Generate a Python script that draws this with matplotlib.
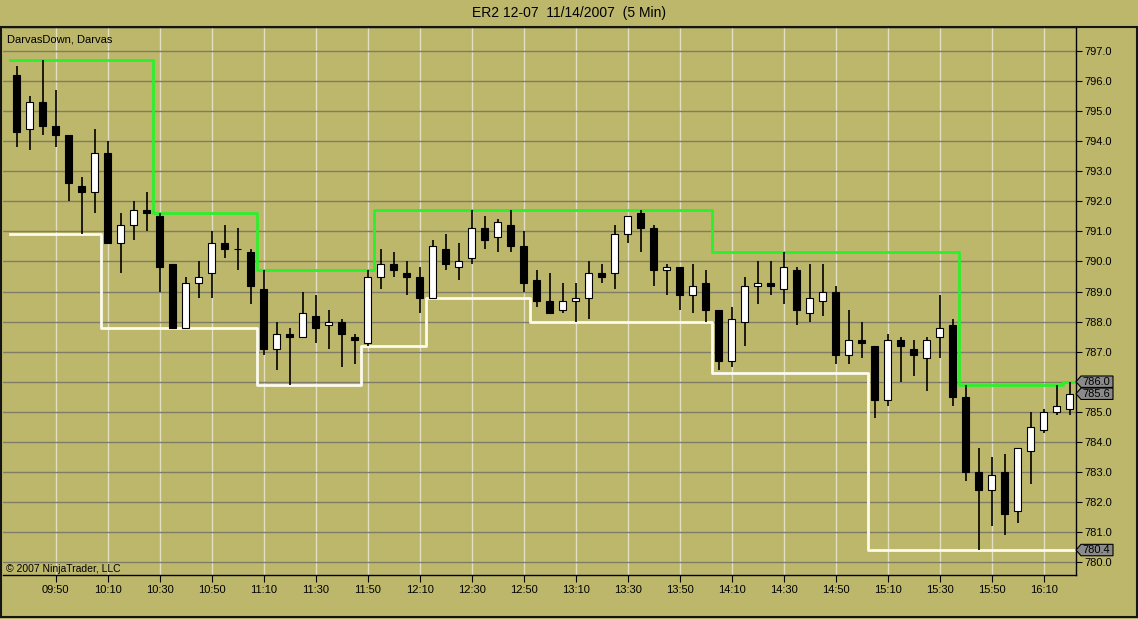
import numpy as np
import pandas as pd
import matplotlib
matplotlib.use("Agg")
import matplotlib.pyplot as plt
import matplotlib.transforms as mtransforms
from matplotlib.patches import Polygon, Rectangle

plt.rcParams["font.family"] = ["Liberation Sans", "DejaVu Sans"]

# 5-min bars of ER2 12-07 on 11/14/2007, first bar 09:35
opens = [796.2, 794.4, 795.3, 794.5, 794.2, 792.5, 792.3, 793.6, 790.6, 791.2,
         791.7, 791.5, 789.9, 787.8, 789.3, 789.6, 790.6, 790.4, 790.3, 789.1,
         787.1, 787.6, 787.5, 788.2, 787.9, 788.0, 787.5, 787.3, 789.5, 789.9,
         789.6, 789.5, 788.8, 790.4, 789.8, 790.1, 791.1, 790.8, 791.2, 790.5,
         789.4, 788.7, 788.4, 788.7, 788.8, 789.6, 789.6, 790.9, 791.6, 791.1,
         789.7, 789.8, 788.9, 789.3, 788.4, 786.7, 788.0, 789.2, 789.3, 789.1,
         789.7, 788.3, 788.7, 789.0, 786.9, 787.4, 787.2, 785.4, 787.4, 787.1,
         786.8, 787.5, 787.9, 785.5, 783.0, 782.4, 783.0, 781.7, 783.7, 784.4,
         785.0, 785.1]
highs = [796.5, 795.5, 796.7, 795.7, 794.2, 792.8, 794.4, 794.0, 791.6, 792.0,
         792.3, 791.6, 789.9, 789.5, 790.0, 791.0, 791.2, 791.1, 790.4, 789.7,
         788.0, 787.8, 789.0, 788.9, 788.4, 788.1, 787.6, 789.7, 790.4, 790.3,
         790.0, 789.8, 790.7, 790.9, 790.6, 791.7, 791.5, 791.4, 791.7, 791.0,
         789.7, 789.6, 789.3, 789.3, 790.0, 789.9, 791.2, 791.5, 791.7, 791.2,
         789.9, 789.8, 789.9, 789.7, 788.4, 788.5, 789.5, 790.0, 790.0, 790.3,
         789.8, 789.9, 789.9, 789.2, 788.4, 788.0, 787.2, 787.6, 787.5, 787.4,
         787.5, 788.9, 788.1, 785.9, 783.8, 783.5, 783.6, 783.8, 785.0, 785.1,
         785.9, 786.0]
lows = [793.8, 793.7, 794.2, 793.8, 792.0, 790.9, 791.6, 790.6, 789.6, 790.7,
        791.0, 789.0, 787.8, 787.8, 788.8, 788.8, 790.1, 789.7, 788.6, 786.9,
        786.4, 785.9, 787.5, 787.3, 787.1, 786.5, 786.6, 787.2, 789.1, 789.5,
        788.9, 788.3, 788.8, 789.7, 789.4, 789.9, 790.4, 790.3, 790.3, 789.0,
        788.5, 788.3, 788.3, 788.0, 788.1, 789.3, 789.1, 790.6, 790.3, 789.2,
        788.9, 788.4, 788.3, 788.0, 786.4, 786.5, 787.2, 788.6, 788.9, 788.6,
        787.9, 788.0, 788.2, 786.6, 786.6, 786.8, 784.8, 785.2, 786.0, 786.2,
        785.7, 786.8, 785.2, 782.7, 780.4, 781.2, 780.9, 781.3, 782.6, 784.3,
        784.9, 784.9]
closes = [794.3, 795.3, 794.5, 794.2, 792.6, 792.3, 793.6, 790.6, 791.2, 791.7,
          791.6, 789.8, 787.8, 789.3, 789.5, 790.6, 790.4, 790.4, 789.2, 787.1,
          787.6, 787.5, 788.3, 787.8, 788.0, 787.6, 787.4, 789.5, 789.9, 789.7,
          789.5, 788.8, 790.5, 789.9, 790.0, 791.1, 790.7, 791.3, 790.5, 789.3,
          788.7, 788.3, 788.7, 788.8, 789.6, 789.5, 790.9, 791.5, 791.1, 789.7,
          789.8, 788.9, 789.2, 788.4, 786.7, 788.1, 789.2, 789.3, 789.2, 789.8,
          788.4, 788.8, 789.0, 786.9, 787.4, 787.3, 785.4, 787.4, 787.2, 786.9,
          787.4, 787.8, 785.5, 783.0, 782.4, 782.9, 781.6, 783.8, 784.5, 785.0,
          785.2, 785.6]

# Darvas box edges: level and the bar where it starts
top_starts = [0, 11, 19, 28, 54, 73, 81]
top_levels = [796.7, 791.6, 789.7, 791.7, 790.3, 785.9, 786.0]
bottom_starts = [0, 7, 19, 27, 32, 40, 54, 66]
bottom_levels = [790.9, 787.8, 785.9, 787.2, 788.8, 788.0, 786.3, 780.4]

BG = "#BDB76B"
GRID_H = "#807d66"
GRID_V = "#e2dec0"

n = len(closes)
times = pd.date_range("2007-11-14 09:35", periods=n, freq="5min")
idx = np.arange(n)
o = np.array(opens)
h = np.array(highs)
l = np.array(lows)
c = np.array(closes)


def step_series(starts, levels):
    vals = np.empty(n)
    for s, v in zip(starts, levels):
        vals[s:] = v
    return vals


fig = plt.figure(figsize=(11.38, 6.19), dpi=100, facecolor=BG)
W, H = 1138, 619
ax = fig.add_axes([3 / W, 44 / H, 1073 / W, 548 / H], facecolor=BG)

# candles
ax.vlines(idx, l, h, color="black", lw=1.2, zorder=3)
up = c >= o
ax.bar(idx, np.abs(c - o), bottom=np.minimum(o, c), width=0.52,
       color=np.where(up, "white", "black"), edgecolor="black", lw=0.8, zorder=4)

# darvas lines
xe = np.arange(n + 1) - 0.5
top = step_series(top_starts, top_levels)
bot = step_series(bottom_starts, bottom_levels)
ax.plot(xe, np.append(top, top[-1]), drawstyle="steps-post", color="#2cf02c", lw=2.0, zorder=2)
ax.plot(xe, np.append(bot, bot[-1]), drawstyle="steps-post", color="#fbfbee", lw=2.0, zorder=2)

ax.set_xlim(-1.05, n - 0.52)
ax.set_ylim(779.57, 797.8)

# price tags shown on the right axis
tag_vals = [top_levels[-1], closes[-1], bottom_levels[-1]]

# axes
xt = [i for i, t in enumerate(times) if t.minute % 20 == 10]
ax.set_xticks(xt)
ax.set_xticklabels([times[i].strftime("%H:%M") for i in xt], fontsize=8)
ax.yaxis.tick_right()
yt = np.arange(780, 798)
ax.set_yticks(yt)
ax.set_yticklabels(["" if min(abs(v - t) for t in tag_vals) < 0.3 else f"{v:.1f}" for v in yt],
                   fontsize=8)
ax.tick_params(axis="x", direction="out", length=5, pad=2, colors="black")
ax.tick_params(axis="y", direction="out", length=4, pad=2, colors="black")
ax.set_axisbelow(True)
ax.grid(axis="y", color=GRID_H, lw=1)
ax.grid(axis="x", color=GRID_V, lw=1)
ax.spines["left"].set_visible(False)
for side in ["right", "bottom", "top"]:
    ax.spines[side].set_color("black")
    ax.spines[side].set_linewidth(1)

trans = mtransforms.blended_transform_factory(ax.transAxes, ax.transData)
tip = 5 / 1073
tw = 37 / 1073
hh = 0.19
for val in tag_vals:
    poly = Polygon([(1.0, val), (1.0 + tip, val + hh), (1.0 + tw, val + hh),
                    (1.0 + tw, val - hh), (1.0 + tip, val - hh)], closed=True,
                   transform=trans, fc="#8a8a8a", ec="black", lw=0.8, clip_on=False, zorder=6)
    ax.add_patch(poly)
    ax.text(1.0 + 6 / 1073, val, f"{val:.1f}", transform=trans, fontsize=8,
            va="center", ha="left", zorder=7, clip_on=False)

# chart panel border
fig.patches.append(Rectangle((0.5 / W, 2 / H), 1136.5 / W, (H - 27 - 2) / H,
                             transform=fig.transFigure, fill=False, ec="#151515", lw=1.5))

fig.text(0.5, 1 - 13 / H, "ER2 12-07  11/14/2007  (5 Min)", ha="center", va="center", fontsize=10)
fig.text(7 / W, 1 - 39 / H, "DarvasDown, Darvas", ha="left", va="center", fontsize=8)
fig.text(6 / W, 1 - 569 / H, "\u00a9 2007 NinjaTrader, LLC", ha="left", va="center", fontsize=7.5)

fig.savefig("out.png", dpi=100, facecolor=BG)
